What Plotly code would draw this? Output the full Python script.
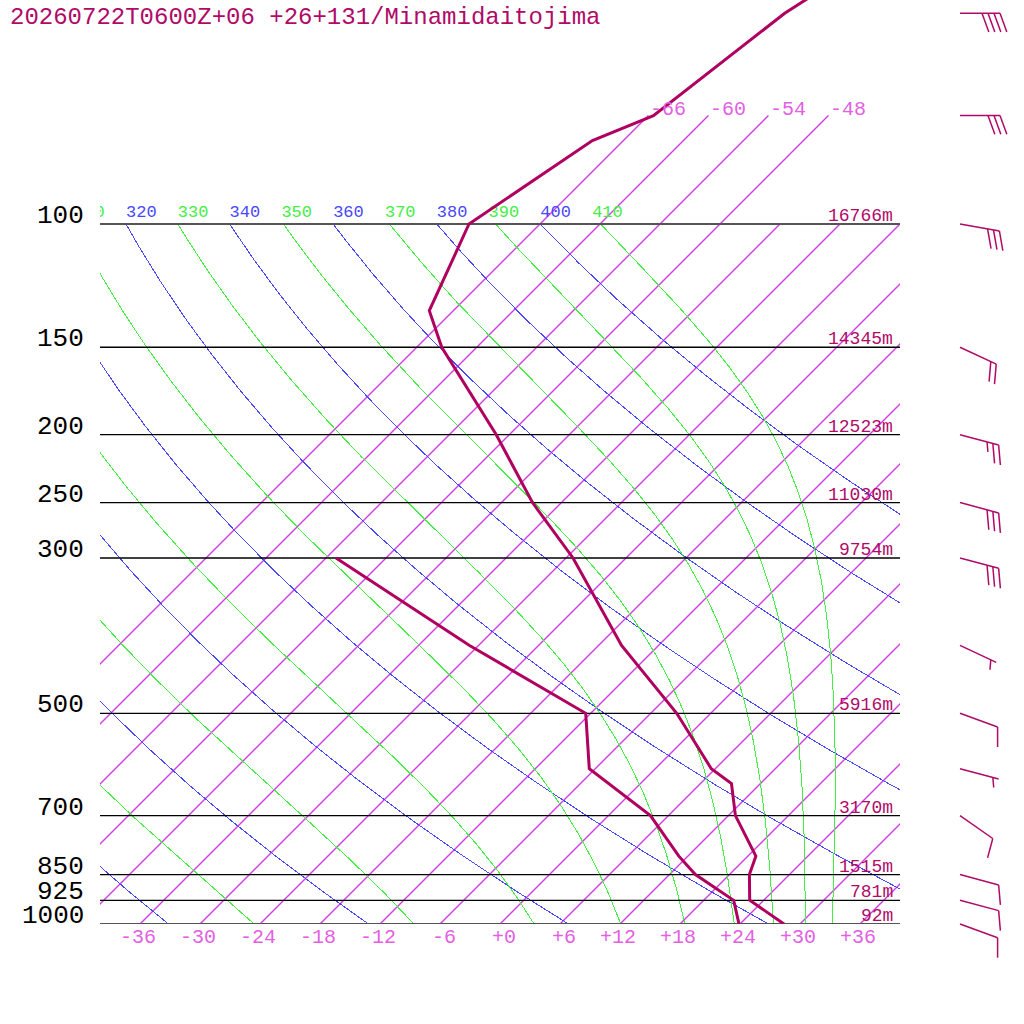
import numpy as np
import plotly.graph_objects as go

title = "20260722T0600Z+06 +26+131/Minamidaitojima"

# sounding, hPa / degC
temp_p = [1000, 925, 850, 800, 700, 630, 600, 500, 400, 300, 250, 200, 150, 133, 100, 76, 70, 50, 30]
temp_t = [28.4, 22.6, 20.0, 18.8, 12.7, 9.1, 5.6, -3.4, -15.7, -29.3, -38.9, -49.3, -63.5, -68.4, -73.1, -69.1, -65.5, -62.6, -54.0]
dewp_p = [1000, 925, 850, 800, 700, 630, 600, 500, 400, 300]
dewp_t = [23.9, 21.0, 14.6, 11.1, 4.2, -3.2, -6.6, -12.5, -30.9, -53.0]

levels = [1000, 925, 850, 700, 500, 300, 250, 200, 150, 100]
level_names = ["1000", "925", "850", "700", "500", "300", "250", "200", "150", "100"]
heights = [92, 781, 1515, 3170, 5916, 9754, 11030, 12523, 14345, 16766]

wind_p = [1000, 925, 850, 700, 600, 500, 400, 300, 250, 200, 150, 100, 70, 50]
wind_dir = [110, 105, 105, 125, 105, 110, 115, 105, 105, 105, 115, 100, 90, 90]
wind_kt = [10, 10, 10, 10, 5, 10, 5, 30, 30, 25, 20, 30, 30, 40]

isotherms = list(range(-66, 37, 6))
upper_isotherms = [-66, -60, -54, -48]
bottom_labels = list(range(-36, 37, 6))
dry_thetas = list(range(240, 401, 20))
moist_thetas = list(range(250, 411, 20))
theta_labels = list(range(310, 411, 10))

# scale of the diagram
PX_DEG = 10.0       # px per degC
PX_DEC = 700.0      # px per decade of pressure
SKEW = PX_DEC / PX_DEG  # isotherms at 45 deg

C_CURVE = "#b0005f"
C_TEXT = "#b00a68"
C_ISO = "#d33ee3"
C_ISO_LBL = "#e35fe3"
C_BLUE = "#4848ff"
C_GREEN = "#45ee45"


def skx(t, p):
    return np.asarray(t, float) + SKEW * np.log10(1000.0 / np.asarray(p, float))


def es(tc):
    return 6.112 * np.exp(17.67 * tc / (tc + 243.5))


def rs(tc, p):
    e = es(tc)
    return 0.622 * e / (p - e)


def theta_e(tc, p=1000.0):
    tk = tc + 273.15
    r = rs(tc, p) * 1000
    return tk * (1000 / p) ** (0.2854 * (1 - 0.28e-3 * r)) * np.exp((3.376 / tk - 0.00254) * r * (1 + 0.81e-3 * r))


def start_temp(the):
    lo, hi = -70.0, 45.0
    for _ in range(60):
        mid = 0.5 * (lo + hi)
        if theta_e(mid) < the:
            lo = mid
        else:
            hi = mid
    return 0.5 * (lo + hi)


def lapse(p, tk):
    r = rs(tk - 273.15, p)
    return (287.04 * tk + 2.501e6 * r) / (p * (1005.7 + 2.501e6 ** 2 * r * 0.622 / (287.04 * tk ** 2)))


def moist(the, pp):
    tk = start_temp(the) + 273.15
    out = [tk]
    for i in range(len(pp) - 1):
        h = pp[i + 1] - pp[i]
        k1 = lapse(pp[i], tk)
        k2 = lapse(pp[i] + h / 2, tk + h / 2 * k1)
        k3 = lapse(pp[i] + h / 2, tk + h / 2 * k2)
        k4 = lapse(pp[i] + h, tk + h * k3)
        tk = tk + h / 6 * (k1 + 2 * k2 + 2 * k3 + k4)
        out.append(tk)
    return np.array(out) - 273.15


pp = np.geomspace(1000, 100, 400)

fig = go.Figure()
BOX = dict(xaxis="x", yaxis="y")
FULL = dict(xaxis="x2", yaxis="y2")

# isotherms, all in one trace
ix, iy = [], []
for tt in isotherms:
    ptop = 70 if tt in upper_isotherms else 100
    ix += list(skx([tt, tt], [1000, ptop])) + [None]
    iy += [1000, ptop, None]
fig.add_trace(go.Scatter(x=ix, y=iy, mode="lines", line_color=C_ISO, line_width=1.4,
                         hoverinfo="skip", **BOX))

# dry adiabats
for th in dry_thetas:
    t = th * (pp / 1000.0) ** 0.2857 - 273.15
    fig.add_trace(go.Scatter(x=skx(t, pp), y=pp, mode="lines", line=dict(color=C_BLUE, width=1),
                             hoverinfo="skip", **BOX))

# moist adiabats
for th in moist_thetas:
    t = moist(th, pp)
    fig.add_trace(go.Scatter(x=skx(t, pp), y=pp, mode="lines", line=dict(color=C_GREEN, width=1),
                             hoverinfo="skip", **BOX))

# pressure lines
for p in levels:
    edge = p in (100, 1000)
    fig.add_trace(go.Scatter(x=[-40, 40], y=[p, p], mode="lines",
                             line=dict(color="#555555" if edge else "black", width=2 if edge else 1.3),
                             hoverinfo="skip", **BOX))

# theta labels at 100 hPa (clipped by the box)
lab_x = skx(np.array(theta_labels) * 0.1 ** 0.2857 - 273.15, 100)
fig.add_trace(go.Scatter(x=lab_x, y=[100 * 10 ** (-11.5 / PX_DEC)] * len(theta_labels), mode="text",
                         text=[str(v) for v in theta_labels], textposition="middle right",
                         textfont=dict(family="Liberation Mono", size=17,
                                       color=[C_BLUE if v % 20 == 0 else C_GREEN for v in theta_labels]),
                         cliponaxis=True, hoverinfo="skip", **BOX))

# profiles
fig.add_trace(go.Scatter(x=skx(dewp_t, dewp_p), y=dewp_p, mode="lines",
                         line=dict(color=C_CURVE, width=3), hoverinfo="skip", **BOX))
fig.add_trace(go.Scatter(x=skx(temp_t, temp_p), y=temp_p, mode="lines",
                         line=dict(color=C_CURVE, width=3), hoverinfo="skip", **BOX))

# wind barbs
BX = (960 - 500) / PX_DEG
bx, by = [], []


def off(p, dx, dy):
    return BX + dx / PX_DEG, p * 10 ** (dy / PX_DEC)


for p, d, s in zip(wind_p, wind_dir, wind_kt):
    a = np.radians(d - 90)
    ux, uy = np.cos(a), np.sin(a)
    tx, ty = 40 * ux, 40 * uy
    x1, y1 = off(p, tx, ty)
    bx += [BX, x1, None]
    by += [p, y1, None]
    b = np.radians(d - 90 + 70)
    vx, vy = np.cos(b), np.sin(b)
    lens = [20] * (s // 10) + ([10] if s % 10 >= 5 else [])
    k = 0 if s >= 10 else 1
    for L in lens:
        sx, sy = tx - 6 * k * ux, ty - 6 * k * uy
        xa, ya = off(p, sx, sy)
        xb, yb = off(p, sx + L * vx, sy + L * vy)
        bx += [xa, xb, None]
        by += [ya, yb, None]
        k += 1
fig.add_trace(go.Scatter(x=bx, y=by, mode="lines", line=dict(color=C_TEXT, width=1.5),
                         hoverinfo="skip", **FULL))

ann = []
mono = "Liberation Mono"
for p, name in zip(levels, level_names):
    ann.append(dict(x=(86 - 500) / PX_DEG, y=np.log10(p), xref="x2", yref="y2", text=name,
                    xanchor="right", yanchor="middle", yshift=8, height=20, showarrow=False,
                    font=dict(family=mono, size=26, color="black")))
for p, h in zip(levels, heights):
    ann.append(dict(x=39.5, y=np.log10(p), xref="x", yref="y", text=f"{h}m",
                    xanchor="right", yanchor="middle", yshift=8, height=14, showarrow=False,
                    font=dict(family=mono, size=18, color=C_TEXT)))
for tt in bottom_labels:
    ann.append(dict(x=tt + 1.8, y=3, xref="x2", yref="y2", text=f"{tt:+d}",
                    xanchor="right", yanchor="middle", yshift=-13, showarrow=False,
                    font=dict(family=mono, size=20, color=C_ISO_LBL)))
for tt in upper_isotherms:
    ann.append(dict(x=float(skx(tt, 70)), y=np.log10(70), xref="x", yref="y", text=f"{tt:+d}",
                    xanchor="left", yanchor="middle", yshift=6, showarrow=False,
                    font=dict(family=mono, size=20, color=C_ISO_LBL)))
ann.append(dict(x=8 / 1024, y=1 - 17 / 1024, xref="paper", yref="paper", text=title,
                xanchor="left", yanchor="middle", showarrow=False,
                font=dict(family=mono, size=24, color=C_TEXT)))

top_log = 3 - 924 / PX_DEC
fig.update_layout(
    width=1024, height=1024, autosize=False,
    margin=dict(l=0, r=0, t=0, b=0, pad=0),
    paper_bgcolor="white", plot_bgcolor="rgba(0,0,0,0)",
    showlegend=False, annotations=ann,
    xaxis=dict(domain=[100 / 1024, 900 / 1024], range=[-40, 40], visible=False, anchor="y"),
    yaxis=dict(domain=[100 / 1024, 1], type="log", range=[3, top_log], visible=False, anchor="x"),
    xaxis2=dict(domain=[0, 1], range=[-50, (1024 - 500) / PX_DEG], visible=False, anchor="y2"),
    yaxis2=dict(domain=[0, 1], type="log", range=[3 + 100 / PX_DEC, top_log], visible=False, anchor="x2"),
)

# page margin off, thin adiabats drawn crisp like the original
js = """
document.body.style.margin = '0px';
document.querySelectorAll('.scatterlayer .js-line').forEach(function (el) {
    if (parseFloat(el.style.strokeWidth) <= 1) { el.style.shapeRendering = 'crispEdges'; }
});
"""
fig.write_html("out.html", config={"displayModeBar": False}, post_script=js)
